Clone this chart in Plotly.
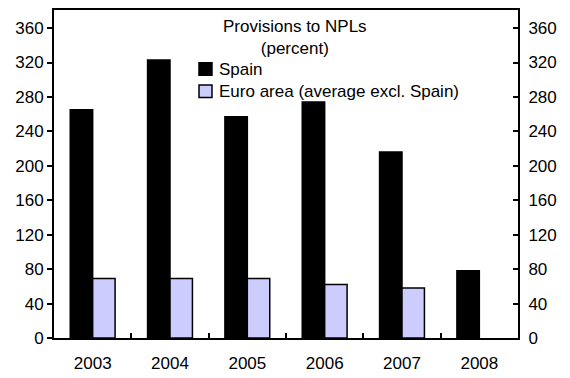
import plotly.graph_objects as go

years = ["2003", "2004", "2005", "2006", "2007", "2008"]
spain = [265, 323, 257, 274, 216, 78]
euro_area = [69, 69, 69, 62, 58, None]
y_ticks = [0, 40, 80, 120, 160, 200, 240, 280, 320, 360]

series = [
    ("Spain", spain, "black"),
    ("Euro area (average excl. Spain)", euro_area, "#CCCCFF"),
]

FONT = "Liberation Sans, Arial, sans-serif"
FS = 17
Y_RANGE = [0, 381]

fig = go.Figure()

for name, vals, color in series:
    fig.add_trace(go.Bar(
        x=years, y=vals, name=name,
        marker=dict(color=color, line=dict(color="black", width=1.5)),
    ))

# dummy trace so the right-hand axis gets drawn
fig.add_trace(go.Scatter(
    x=years, y=[None] * len(years), yaxis="y2",
    showlegend=False, hoverinfo="skip",
))

# page body has an 8px margin, so the figure is a bit smaller than the window
fig.update_layout(
    width=562, height=370,
    margin=dict(l=46, r=52, t=0, b=40),
    paper_bgcolor="white", plot_bgcolor="white",
    font=dict(family=FONT, size=FS, color="black"),
    barmode="group", bargap=0.42, bargroupgap=0,
    showlegend=False,
    xaxis=dict(
        showline=True, linecolor="black", linewidth=2, mirror=True,
        ticks="inside", tickson="boundaries", ticklen=5, tickwidth=2,
        tickcolor="black", showgrid=False, ticklabelstandoff=9,
    ),
    yaxis=dict(
        range=Y_RANGE, tickvals=y_ticks, showline=True, linecolor="black",
        linewidth=2, ticks="outside", ticklen=5, tickwidth=2,
        tickcolor="black", showgrid=False, zeroline=False,
    ),
    yaxis2=dict(
        range=Y_RANGE, tickvals=y_ticks, overlaying="y", side="right",
        showline=True, linecolor="black", linewidth=2, ticks="inside",
        ticklen=5, tickwidth=2, tickcolor="black", showgrid=False,
        zeroline=False, ticklabelstandoff=5,
    ),
)

fig.add_annotation(
    text="Provisions to NPLs<br>(percent)", xref="paper", yref="paper",
    x=0.519, y=0.916, xanchor="center", yanchor="middle", showarrow=False,
    font=dict(size=FS), align="center",
)

# legend drawn by hand so the swatch sits close to its label
legend_rows = [0.82, 0.752]
for (name, vals, color), yc in zip(series, legend_rows):
    fig.add_shape(
        type="rect", xref="paper", yref="paper",
        x0=0.3125, x1=0.3405, y0=yc - 0.019, y1=yc + 0.019,
        fillcolor=color, line=dict(color="black", width=1.5),
    )
    fig.add_annotation(
        text=name, xref="paper", yref="paper", x=0.3513, y=yc,
        xanchor="left", yanchor="middle", showarrow=False,
        font=dict(size=FS),
    )

fig.write_html("out.html")
